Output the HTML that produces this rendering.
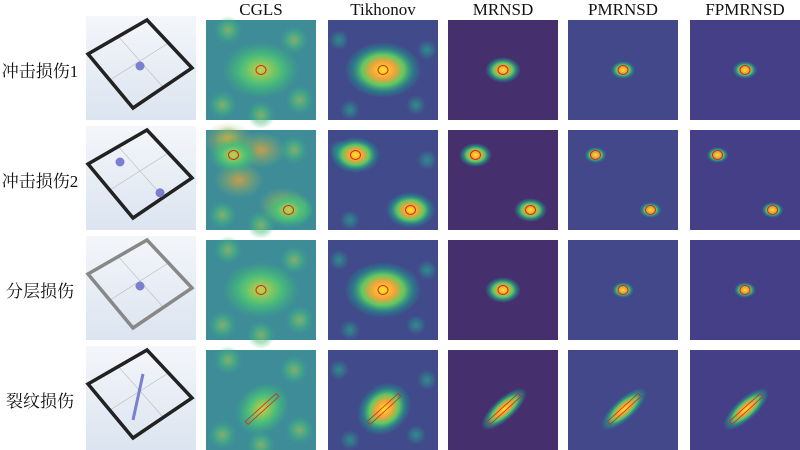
<!DOCTYPE html>
<html><head><meta charset="utf-8"><style>
body{margin:0;background:#fff;width:800px;height:450px;overflow:hidden;font-family:"Liberation Serif","Noto Serif CJK SC",serif}
svg{position:absolute;left:0;top:0}
</style></head><body>
<svg id="s" width="800" height="450">
<defs>
<radialGradient id="hot"><stop offset="0" stop-color="#f8e621"/><stop offset="0.3" stop-color="#f5a338"/><stop offset="0.55" stop-color="#5ec962"/><stop offset="0.8" stop-color="#21918c" stop-opacity="0.6"/><stop offset="1" stop-color="#21918c" stop-opacity="0"/></radialGradient>
<radialGradient id="warm"><stop offset="0" stop-color="#c8d040"/><stop offset="0.5" stop-color="#4fbf78"/><stop offset="1" stop-color="#35b779" stop-opacity="0"/></radialGradient>
<radialGradient id="dim"><stop offset="0" stop-color="#2a9d8f" stop-opacity="0.8"/><stop offset="1" stop-color="#2a9d8f" stop-opacity="0"/></radialGradient>
<radialGradient id="orange"><stop offset="0" stop-color="#e8a03a" stop-opacity="0.8"/><stop offset="1" stop-color="#8fc060" stop-opacity="0"/></radialGradient>
<linearGradient id="model" x1="0" y1="0" x2="0" y2="1"><stop offset="0" stop-color="#f4f6fa"/><stop offset="1" stop-color="#dbe4f0"/></linearGradient>
</defs>
</svg>
<script>
const methods=["CGLS","Tikhonov","MRNSD","PMRNSD","FPMRNSD"];
const rowLabels=["冲击损伤1","冲击损伤2","分层损伤","裂纹损伤"];
const colX=[206,328,448,568,690];
const rowY=[20,130,240,350];
const bgs=["#3e8c98","#414a8a","#452f6c","#42488a","#443f86"];
const spotR=[[0.28,0.28,0.13,0.09,0.09],[0.18,0.18,0.12,0.08,0.08],[0.28,0.28,0.13,0.08,0.08]];
const dmg=[[[0.5,0.5]],[[0.25,0.25],[0.75,0.8]],[[0.5,0.5]]];
const crack=[[0.37,0.73],[0.65,0.45]];
const W=110,H=100,NS="http://www.w3.org/2000/svg";
const s=document.getElementById('s');
function el(t,a,p){const e=document.createElementNS(NS,t);for(const k in a)e.setAttribute(k,a[k]);(p||s).appendChild(e);return e;}
methods.forEach((m,i)=>{const t=el('text',{x:colX[i]+W/2,y:15,'text-anchor':'middle','font-size':17,fill:'#111'});t.textContent=m;

});
rowLabels.forEach((r,j)=>{
 const t=el('text',{x:40,y:rowY[j]+57,'text-anchor':'middle','font-size':17,fill:'#111'});t.textContent=r;
 
 
 const g=el('g',{});
 
 
 const mx=86,my=rowY[j]-4;
 el('rect',{x:mx,y:my,width:110,height:104,fill:'url(#model)'},g);
 el('line',{x1:mx+31,y1:my+19,x2:mx+77,y2:my+71,stroke:'#bbb','stroke-width':0.6},g);
 el('line',{x1:mx+84,y1:my+26,x2:mx+24,y2:my+64,stroke:'#bbb','stroke-width':0.6},g);
 el('polygon',{points:`${mx+2},${my+38} ${mx+61},${my+4} ${mx+106},${my+52} ${mx+47},${my+92}`,fill:'none',stroke:j==2?'#888':'#222','stroke-width':3.5},g);
 if(j<3)dmg[j].forEach(d=>el('circle',{cx:mx+14+d[0]*80,cy:my+22+d[1]*56,r:4.5,fill:'#7b7fd0'},g));
 else el('line',{x1:mx+47,y1:my+74,x2:mx+57,y2:my+28,stroke:'#7b7fd0','stroke-width':3},g);
 methods.forEach((m,i)=>{
  const x=colX[i],y=rowY[j];
  const pg=el('g',{});
  
  
  el('rect',{x,y,width:W,height:H,fill:bgs[i]},pg);
  if(i==0){[[0.2,0.1],[0.8,0.2],[0.15,0.85],[0.85,0.8],[0.5,0.95]].forEach(p=>el('circle',{cx:x+p[0]*W,cy:y+p[1]*H,r:14,fill:'url(#warm)',opacity:0.5},pg));
   if(j==1)[[0.2,0.1],[0.5,0.2],[0.7,0.75],[0.3,0.5]].forEach(p=>el('ellipse',{cx:x+p[0]*W,cy:y+p[1]*H,rx:25,ry:18,fill:'url(#orange)'},pg));}
  if(i==1)[[0.1,0.2],[0.9,0.3],[0.2,0.9],[0.8,0.85]].forEach(p=>el('circle',{cx:x+p[0]*W,cy:y+p[1]*H,r:10,fill:'url(#dim)'},pg));
  if(j<3){dmg[j].forEach(d=>{const r=spotR[j][i];
    el('ellipse',{cx:x+d[0]*W,cy:y+d[1]*H,rx:r*W*1.25,ry:r*H,fill:i==0?'url(#warm)':'url(#hot)'},pg);
    el('ellipse',{cx:x+d[0]*W,cy:y+d[1]*H,rx:5,ry:4.5,fill:'none',stroke:'#e02020','stroke-width':1},pg);});}
  else{const a=crack[0],b=crack[1];const cx=x+(a[0]+b[0])/2*W,cy=y+(a[1]+b[1])/2*H;
    const ang=Math.atan2((b[1]-a[1])*H,(b[0]-a[0])*W)*180/Math.PI;const len=Math.hypot((b[0]-a[0])*W,(b[1]-a[1])*H);
    el('ellipse',{cx,cy,rx:len*0.7,ry:i<2?24:11,fill:i==0?'url(#warm)':'url(#hot)',transform:`rotate(${ang} ${cx} ${cy})`},pg);
    el('rect',{x:cx-len/2,y:cy-2,width:len,height:4,fill:'none',stroke:'#e02020','stroke-width':0.8,transform:`rotate(${ang} ${cx} ${cy})`},pg);}
 });
});
</script>
</body></html>
